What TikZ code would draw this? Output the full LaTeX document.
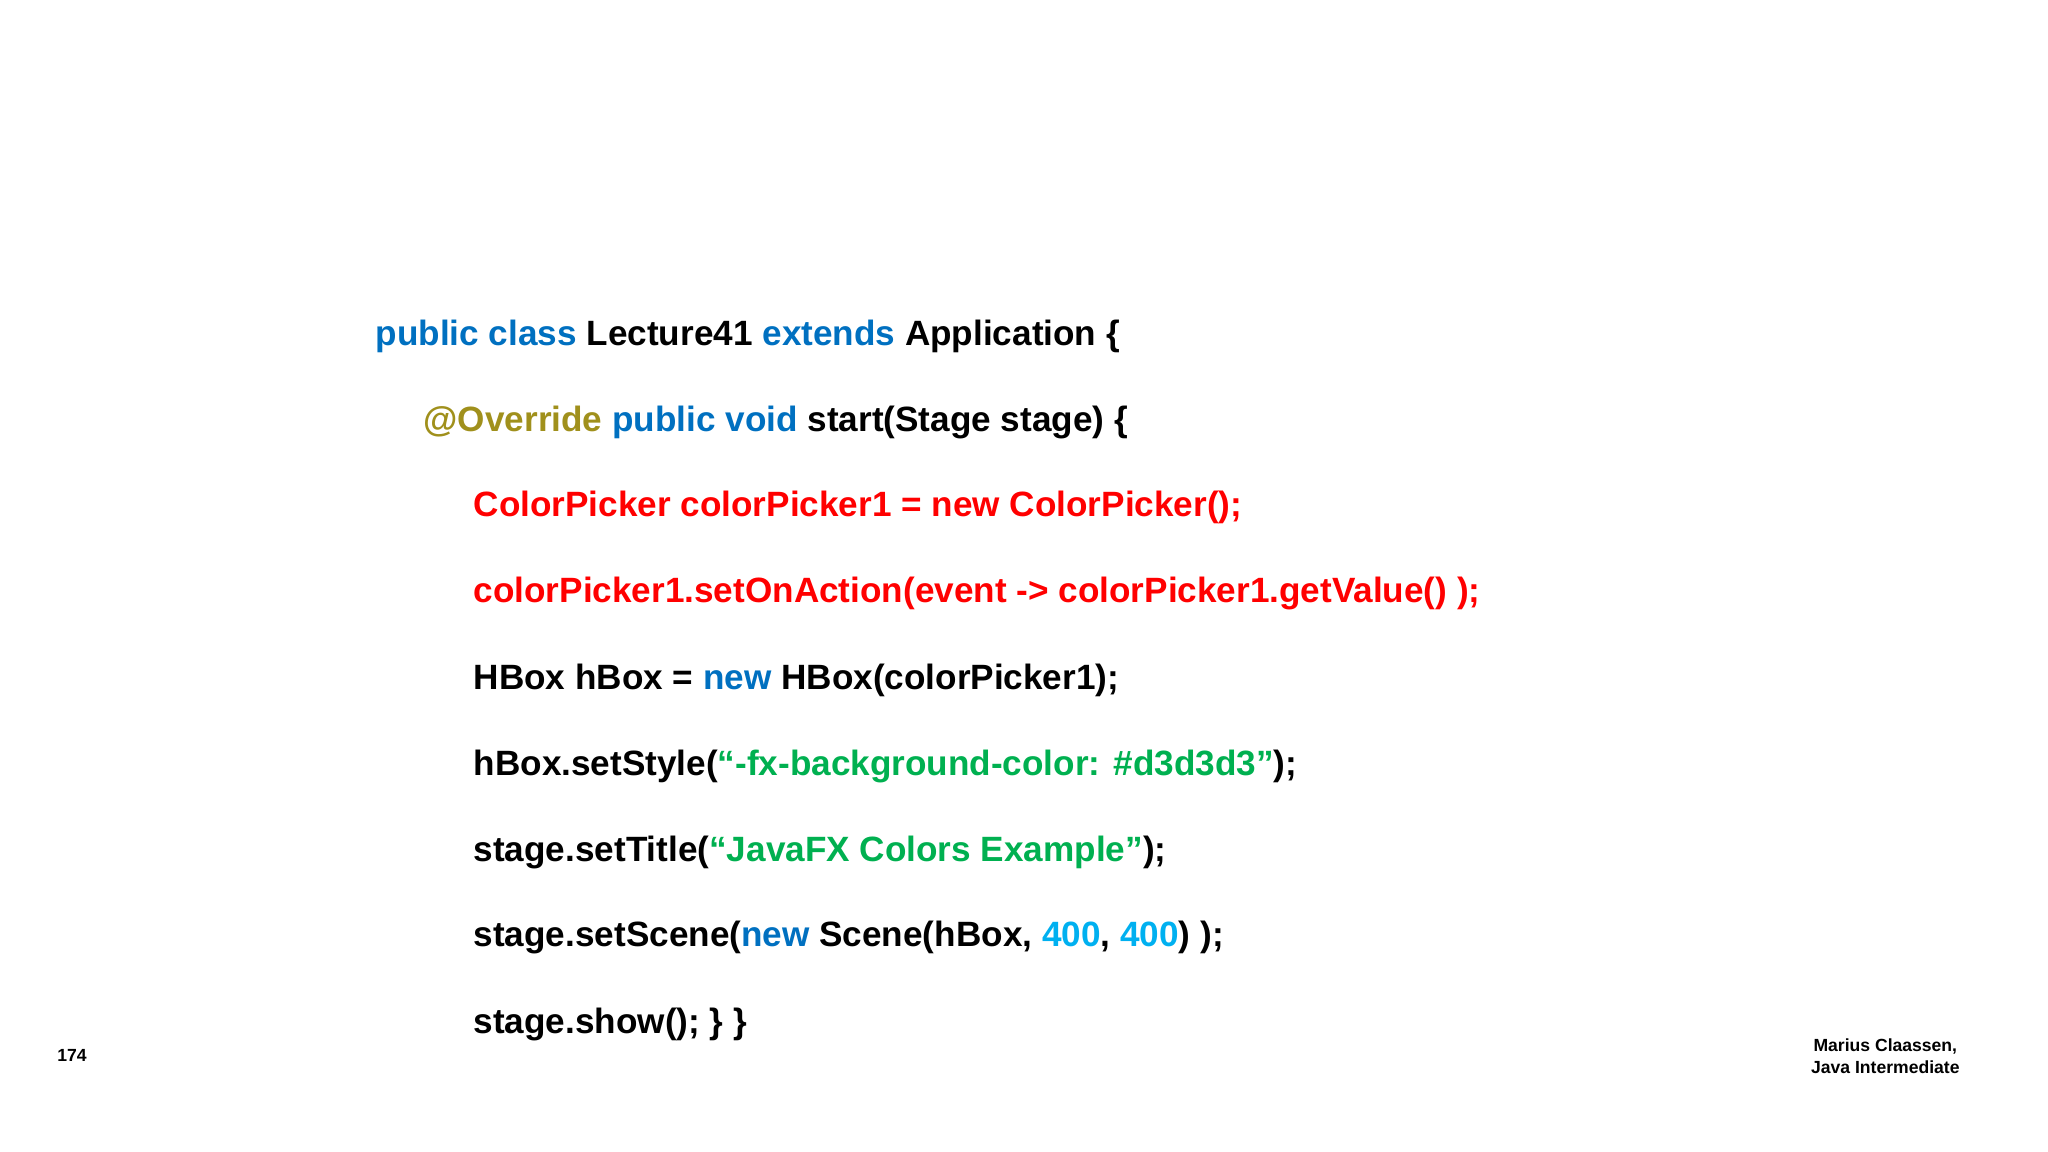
\documentclass[tikz,border=0pt]{standalone}
\usepackage{fontspec}
\setmainfont{Liberation Sans}
\usetikzlibrary{positioning}
\definecolor{kwblue}{HTML}{0070C0}
\definecolor{annot}{HTML}{A0901C}
\definecolor{strgreen}{HTML}{00B050}
\definecolor{numcyan}{HTML}{00B0F0}
\tikzset{codeline/.style={anchor=base west,inner sep=0pt,font=\bfseries\fontsize{10pt}{12pt}\selectfont}}
\newcommand{\kw}[1]{\textcolor{kwblue}{#1}}
\newcommand{\str}[1]{\textcolor{strgreen}{#1}}
\newcommand{\num}[1]{\textcolor{numcyan}{#1}}
\begin{document}
\begin{tikzpicture}[x=1cm,y=-1cm]
\useasboundingbox (0,0) rectangle (20.48,11.52);
\node[codeline] (l1) at (3.75,3.46) {\kw{public class} Lecture41 \kw{extends} Application \{};
\node[codeline] (l2) at (4.23,4.32) {\textcolor{annot}{@Override} \kw{public void} start(Stage stage) \{};
\node[codeline,red] (l3) at (4.73,5.17) {ColorPicker colorPicker1 = new ColorPicker();};
\node[codeline,red] (l4) at (4.73,6.03) {colorPicker1.setOnAction(event -> colorPicker1.getValue() );};
\node[codeline] (l5) at (4.73,6.89) {HBox hBox = \kw{new} HBox(colorPicker1);};
\node[codeline] (l6) at (4.73,7.75) {hBox.setStyle(\str{“-fx-background-color: \#d3d3d3”});};
\node[codeline] (l7) at (4.73,8.61) {stage.setTitle(\str{“JavaFX Colors Example”});};
\node[codeline] (l8) at (4.73,9.47) {stage.setScene(\kw{new} Scene(hBox, \num{400}, \num{400}) );};
\node[codeline] (l9) at (4.73,10.33) {stage.show(); \} \}};
% footer
\node[anchor=west,font=\bfseries\fontsize{5pt}{6pt}\selectfont] (page) at (0.45,10.55) {174};
\node[anchor=east,align=center,font=\bfseries\fontsize{5pt}{6.2pt}\selectfont] (author) at (19.72,10.56) {Marius Claassen,\\Java Intermediate};
\end{tikzpicture}
\end{document}
